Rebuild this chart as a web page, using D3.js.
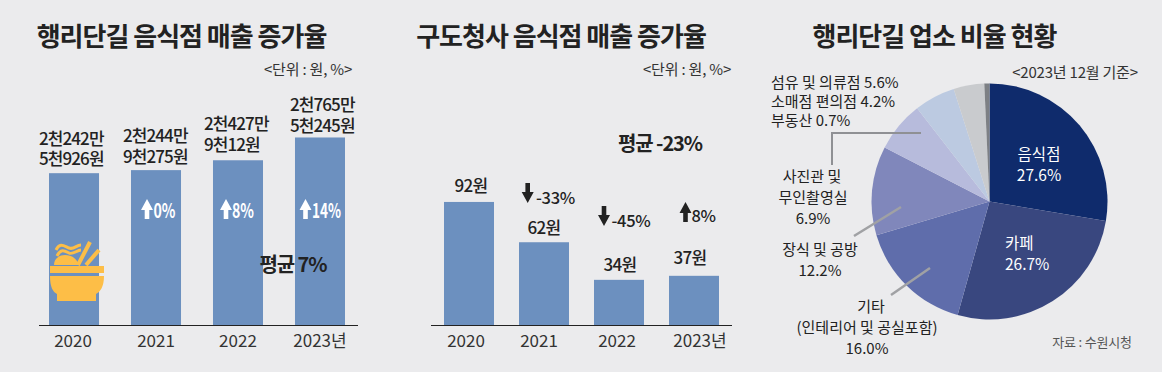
<!DOCTYPE html>
<html>
<head>
<meta charset="utf-8">
<script src="https://cdn.jsdelivr.net/npm/d3@7"></script>
<style>
  html, body { margin: 0; padding: 0; background: #ebebed; }
  svg { display: block; }
  text { font-family: "Noto Sans CJK KR", sans-serif; fill: #222; }
</style>
</head>
<body>
<svg id="chart" width="1162" height="372"></svg>
<script>
// data
const years = ['2020', '2021', '2022', '2023년'];
const salesHeights = [22.4, 22.85, 24.3, 27.65];   // 행리단길, million won
const salesLabels = [['2천242만', '5천926원'], ['2천244만', '9천275원'], ['2천427만', '9천12원'], ['2천765만', '5천245원']];
const salesChanges = ['', '0%', '8%', '14%'];
const perWon = [92, 62, 34, 37];                   // 구도청사
const perWonChanges = ['', '-33%', '-45%', '8%'];
const pieValues = [27.6, 26.7, 16.0, 12.2, 6.9, 5.6, 4.2, 0.7];
const pieColors = ['#0f2b6c', '#39477f', '#5f6dab', '#8087bb', '#b7bbdc', '#bccae1', '#c9cbce', '#7d8085'];

const svg = d3.select('#chart');
const baseY = 325.5;

// lines is a string or a list of lines, lh = line step in px
function label(x, y, lines, size, opts = {}) {
    let t = svg.append('text')
        .attr('x', x)
        .attr('y', y)
        .attr('text-anchor', opts.anchor || 'middle')
        .attr('font-size', size)
        .attr('font-weight', opts.weight || 400)
        .attr('letter-spacing', opts.spacing || 0)
        .style('fill', opts.fill || '#222');
    if (typeof lines == 'string') {
        t.text(lines);
    } else {
        lines.forEach((s, i) => {
            t.append('tspan')
                .attr('x', x + (opts.shift ? opts.shift[i] : 0))
                .attr('y', y + i * (opts.lh || 20.5))
                .text(s);
        });
    }
    if (opts.fit) {
        t.attr('textLength', opts.fit).attr('lengthAdjust', 'spacingAndGlyphs');
    }
    return t;
}

// block arrow, x = centre of the shaft, y = top of the arrow
function arrow(x, y, dir, color) {
    let h = 20;
    let p = dir > 0
        ? [[x, y], [x + 6, y + 11], [x + 2.3, y + 11], [x + 2.3, y + h], [x - 2.3, y + h], [x - 2.3, y + 11], [x - 6, y + 11]]
        : [[x - 2.3, y], [x + 2.3, y], [x + 2.3, y + 9], [x + 6, y + 9], [x, y + h], [x - 6, y + 9], [x - 2.3, y + 9]];
    svg.append('path')
        .attr('d', d3.line()(p) + 'Z')
        .style('fill', color);
}

function drawBars(values, yMax, x0, x1, inner, lineX0, lineX1, tickShift) {
    let x = d3.scaleBand().domain(years).range([x0, x1]).paddingInner(inner).paddingOuter(0);
    let y = d3.scaleLinear().domain([0, yMax]).range([baseY, baseY - yMax * (yMax > 50 ? 1.343 : 6.8)]);

    svg.append('g')
        .selectAll('rect')
        .data(values)
        .join('rect')
        .attr('x', (d, i) => x(years[i]))
        .attr('y', d => y(d))
        .attr('width', x.bandwidth())
        .attr('height', d => baseY - y(d))
        .style('fill', '#6c90bf');

    let axis = svg.append('g')
        .attr('transform', `translate(0, ${baseY})`)
        .call(d3.axisBottom(x).tickSize(0).tickPadding(0));
    axis.select('.domain').remove();
    axis.selectAll('text')
        .attr('y', 0)
        .attr('dy', 0)
        .attr('transform', (d, i) => `translate(${tickShift[i]}, 21.5)`)
        .style('font-family', '"Noto Sans CJK KR", sans-serif')
        .style('font-size', '17px')
        .style('fill', '#333');

    svg.append('line')
        .attr('x1', lineX0)
        .attr('x2', lineX1)
        .attr('y1', baseY)
        .attr('y2', baseY)
        .style('stroke', '#222')
        .style('stroke-width', 1);
}

const titleOpts = { weight: 600, spacing: -1 };
const unitOpts = { fill: '#333', spacing: -0.2 };

// left chart
label(181.5, 46, '행리단길 음식점 매출 증가율', 26, titleOpts);
label(308, 75, '<단위 : 원, %>', 15, unitOpts);
drawBars(salesHeights, 30, 49, 345, 0.39, 39, 358, [-1, 0, 0, 0]);
let labelLeft = [39, 123, 204, 290];
let labelTop = [144.5, 142, 130, 111];
salesLabels.forEach((lines, i) => {
    label(labelLeft[i], labelTop[i], lines, 17, { anchor: 'start', weight: 500, spacing: -0.9 });
});
let arrowX = [0, 147, 226, 305.5];
let changeX = [0, 153.5, 232, 312];
let changeW = [0, 22, 22, 29];
salesChanges.forEach((s, i) => {
    if (!s) return;
    arrow(arrowX[i], 199, 1, '#fff');
    label(changeX[i], 218, s, 20, { anchor: 'start', weight: 600, fill: '#fff', fit: changeW[i] });
});
label(293, 272, '평균 7%', 20, { weight: 700, spacing: -1.1 });

// bowl icon on the 2020 bar
let icon = svg.append('g').attr('transform', 'translate(50, 241)').style('fill', '#fdbe47');
icon.append('path').attr('d', 'M0 25H54V32H0Z');
icon.append('path').attr('d', 'M0 35H54C54 46 50 51 46 53V60H7V53C3 51 0 46 0 35Z');
icon.append('path').attr('d', 'M4 24C4 17 10 14 15 14C22 14 27 18 29 24Z');
const strokes = [
    ['M28 24L40 1', 4], ['M36 24L49 9', 4],
    ['M6 9C10 1 14 5 19 7S26 4 31 4', 3], ['M7 15C11 7 15 10 19 12S27 9 31 9', 3]
];
strokes.forEach(s => {
    icon.append('path').attr('d', s[0]).style('stroke', '#fdbe47').style('stroke-width', s[1]).style('fill', 'none');
});

// middle chart
label(561, 46, '구도청사 음식점 매출 증가율', 26, titleOpts);
label(687, 75, '<단위 : 원, %>', 15, unitOpts);
drawBars(perWon, 100, 444, 719, 1 / 3, 431, 732, [-3, -5, -2, 6]);
let wonLabelX = [471, 544, 620, 690];
let wonLabelY = [192, 234, 271, 264];
perWon.forEach((d, i) => {
    label(wonLabelX[i], wonLabelY[i], d + '원', 17, { weight: 500, spacing: -0.7 });
});
arrow(527.7, 183, -1, '#222');
label(536, 204, perWonChanges[1], 16.5, { anchor: 'start', weight: 500, spacing: -0.3 });
arrow(604, 206, -1, '#222');
label(611.5, 227, perWonChanges[2], 16.5, { anchor: 'start', weight: 500, spacing: -0.3 });
arrow(685.5, 202, 1, '#222');
label(691.5, 222, perWonChanges[3], 16.5, { anchor: 'start', weight: 500, spacing: -0.3 });
label(660, 151, '평균 -23%', 20, { weight: 700, spacing: -1.1 });

// pie
label(934.5, 46, '행리단길 업소 비율 현황', 26, titleOpts);
label(1075, 78, '<2023년 12월 기준>', 15, unitOpts);
let pie = d3.pie().sort(null)(pieValues);
let arc = d3.arc().innerRadius(0).outerRadius(118);
svg.append('g')
    .attr('transform', 'translate(989.5, 201.5)')
    .selectAll('path')
    .data(pie)
    .join('path')
    .attr('d', arc)
    .style('fill', (d, i) => pieColors[i]);

svg.append('path')
    .attr('d', 'M921 133H832V165')
    .style('fill', 'none')
    .style('stroke', '#8f9094')
    .style('stroke-width', 2);
svg.append('line').attr('x1', 901).attr('y1', 207).attr('x2', 854).attr('y2', 236).style('stroke', '#a0a1a4').style('stroke-width', 2.5);
svg.append('line').attr('x1', 930).attr('y1', 268).attr('x2', 891).attr('y2', 295).style('stroke', '#a0a1a4').style('stroke-width', 2.5);

label(1039, 160, ['음식점', '27.6%'], 15.5, { fill: '#fff', lh: 21 });
label(1005, 249, ['카페', '26.7%'], 15.5, { anchor: 'start', fill: '#fff', lh: 21 });
label(771, 88, ['섬유 및 의류점 5.6%', '소매점 편의점 4.2%', '부동산 0.7%'], 15, { anchor: 'start', lh: 19 });
label(812, 182, ['사진관 및', '무인촬영실', '6.9%'], 15, { lh: 21, shift: [0, 1, 1] });
label(820, 255, ['장식 및 공방', '12.2%'], 15, { lh: 21 });
label(867, 312, ['기타', '(인테리어 및 공실포함)', '16.0%'], 15, { lh: 21, shift: [4, 0, 0] });
label(1092, 347, '자료 : 수원시청', 13, { fill: '#555', spacing: -0.2 });
</script>
</body>
</html>
